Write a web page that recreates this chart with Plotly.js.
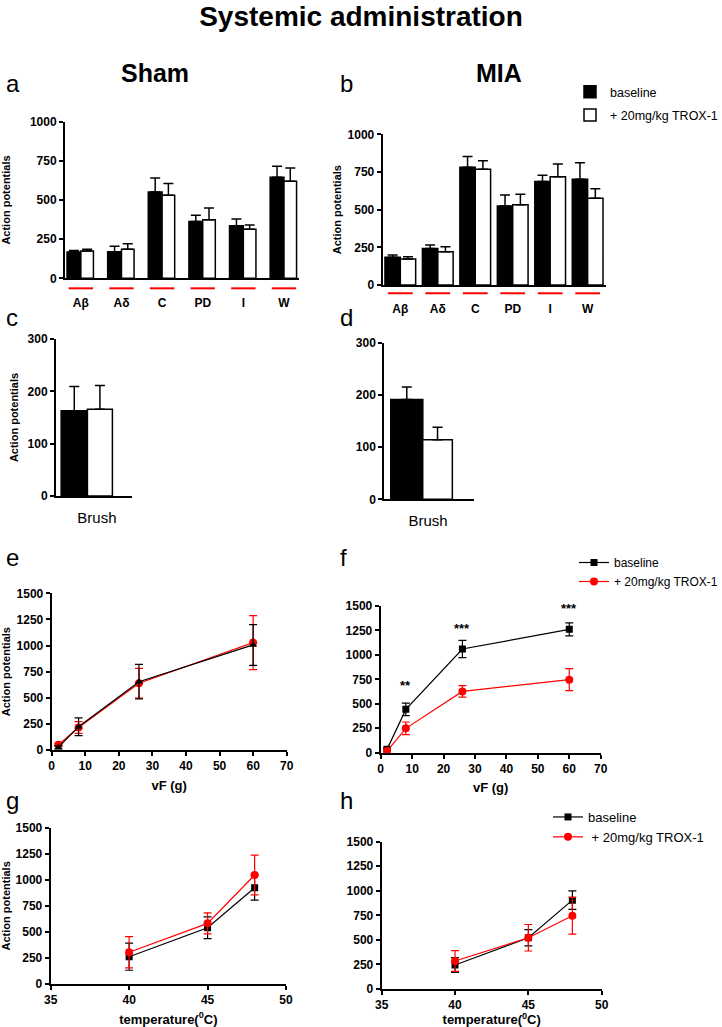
<!DOCTYPE html>
<html><head><meta charset="utf-8">
<script src="https://cdn.plot.ly/plotly-3.0.1.min.js"></script>
<style>html,body{margin:0;padding:0;background:#fff}</style>
</head><body><div id="chart" style="width:722px;height:1027px"></div>
<script>
// ---------- data ----------
const fiberTypes = ["Aβ","Aδ","C","PD","I","W"];
const shamBaseline     = [168,170,551,363,335,645];
const shamBaselineErr  = [10,35,90,39,43,71];
const shamTrox         = [174,186,530,374,314,620];
const shamTroxErr      = [11,34,75,75,26,85];
const miaBaseline      = [184,243,781,524,686,701];
const miaBaselineErr   = [15,22,71,73,42,111];
const miaTrox          = [173,221,768,533,719,575];
const miaTroxErr       = [15,33,57,69,84,64];

const brushCat = ["Brush"];
const brushShamBaseline = [163], brushShamBaselineErr = [46];
const brushShamTrox     = [166], brushShamTroxErr     = [45];
const brushMiaBaseline  = [191], brushMiaBaselineErr  = [24];
const brushMiaTrox      = [114], brushMiaTroxErr      = [24];

const vonFrey = [2,8,26,60];
const vfShamBaseline = [25,223,654,1006], vfShamBaselineErr = [15,85,165,195];
const vfShamTrox     = [50,215,639,1028], vfShamTroxErr     = [15,56,142,258];
const vfMiaBaseline  = [34,443,1060,1261], vfMiaBaselineErr = [15,63,88,67];
const vfMiaTrox      = [17,249,627,747],  vfMiaTroxErr      = [10,65,58,112];
const sigX = [8,26,60], sigLabels = ["**","***","***"], sigLabelY = [690,1265,1476];

const temperature = [40,45,48];
const thShamBaseline = [262,540,924], thShamBaselineErr = [130,105,120];
const thShamTrox     = [305,582,1046], thShamTroxErr    = [150,100,190];
const thMiaBaseline  = [244,522,905], thMiaBaselineErr  = [75,83,95];
const thMiaTrox      = [285,522,746], thMiaTroxErr      = [105,135,188];

const barTicks = [0,250,500,750,1000];
const brushTicks = [0,100,200,300];
const lineYTicks = [0,250,500,750,1000,1250,1500];
const vfTicks = [0,10,20,30,40,50,60,70];
const tempTicks = [35,40,45,50];

// ---------- helpers ----------
const W = 722, H = 1027;
const FONT = "Liberation Sans, Arial, sans-serif";
const RED = "#ff0000";
function dx(a,b){ return [a/W, b/W]; }
function dy(top,bottom){ return [1-bottom/H, 1-top/H]; }
const zeros = n => new Array(n).fill(0);

function yAx(domain, anchor, range, tickvals, title, standoff){
  const ax = {domain, anchor, range, tickvals, showline:true, linewidth:2, linecolor:"#000",
    ticks:"outside", ticklen:4, tickwidth:2, tickcolor:"#000", showgrid:false, zeroline:false,
    tickfont:{family:FONT, size:12, weight:"bold", color:"#000"}, fixedrange:true, automargin:false};
  if (title) ax.title = {text:title, font:{family:FONT, size:11, weight:"bold", color:"#000"}, standoff};
  return ax;
}
function xNum(domain, anchor, range, tickvals, title){
  return {domain, anchor, range, tickvals, showline:true, linewidth:2, linecolor:"#000",
    ticks:"outside", ticklen:4, tickwidth:2, tickcolor:"#000", showgrid:false, zeroline:false,
    tickfont:{family:FONT, size:12, weight:"bold", color:"#000"}, fixedrange:true, automargin:false,
    title:{text:title, font:{family:FONT, size:13, weight:"bold", color:"#000"}, standoff:8}};
}
function xCat(domain, anchor, range, fontSize, weight, standoff){
  return {domain, anchor, type:"category", range, showline:true, linewidth:2, linecolor:"#000",
    ticks:"", showgrid:false, zeroline:false, fixedrange:true, automargin:false,
    ticklabelstandoff: standoff,
    tickfont:{family:FONT, size:fontSize, weight, color:"#000"}};
}
function bar(x, y, err, fill, xa, ya, offset, width, name, legend, show){
  return {type:"bar", x, y, xaxis:xa, yaxis:ya, offset, width, name,
    legend, showlegend:show, legendgroup:name,
    marker:{color:fill, line:{color:"#000", width:1.5}},
    error_y:{type:"data", symmetric:false, array:err, arrayminus:zeros(err.length),
      color:"#000", thickness:1.5, width:5}};
}
function line(x, y, err, color, symbol, size, xa, ya, name, legend, show){
  return {type:"scatter", mode:"lines+markers", x, y, xaxis:xa, yaxis:ya, name, legend, showlegend:show,
    line:{color, width:1.2}, marker:{color, symbol, size},
    error_y:{type:"data", array:err, color, thickness:1.2, width:4}};
}

const traces = [
  // a: Sham bars
  bar(fiberTypes, shamBaseline, shamBaselineErr, "#000", "x", "y", -0.34, 0.34, "baseline", "legend", false),
  bar(fiberTypes, shamTrox, shamTroxErr, "#fff", "x", "y", 0, 0.31, "+ 20mg/kg TROX-1", "legend", false),
  // b: MIA bars
  bar(fiberTypes, miaBaseline, miaBaselineErr, "#000", "x2", "y2", -0.41, 0.41, "baseline", "legend", true),
  bar(fiberTypes, miaTrox, miaTroxErr, "#fff", "x2", "y2", 0, 0.41, "+ 20mg/kg TROX-1", "legend", true),
  // c, d: brush
  bar(brushCat, brushShamBaseline, brushShamBaselineErr, "#000", "x3", "y3", -0.472, 0.347, "baseline", "legend", false),
  bar(brushCat, brushShamTrox, brushShamTroxErr, "#fff", "x3", "y3", -0.125, 0.33, "+ 20mg/kg TROX-1", "legend", false),
  bar(brushCat, brushMiaBaseline, brushMiaBaselineErr, "#000", "x4", "y4", -0.414, 0.356, "baseline", "legend", false),
  bar(brushCat, brushMiaTrox, brushMiaTroxErr, "#fff", "x4", "y4", -0.059, 0.329, "+ 20mg/kg TROX-1", "legend", false),
  // e, f: von Frey
  line(vonFrey, vfShamTrox, vfShamTroxErr, RED, "circle", 8, "x5", "y5", "+ 20mg/kg TROX-1", "legend2", false),
  line(vonFrey, vfShamBaseline, vfShamBaselineErr, "#000", "triangle-up", 7, "x5", "y5", "baseline", "legend2", false),
  line(vonFrey, vfMiaBaseline, vfMiaBaselineErr, "#000", "square", 7, "x6", "y6", "baseline", "legend2", true),
  line(vonFrey, vfMiaTrox, vfMiaTroxErr, RED, "circle", 8, "x6", "y6", "+ 20mg/kg TROX-1", "legend2", true),
  // g, h: heat
  line(temperature, thShamBaseline, thShamBaselineErr, "#000", "square", 7, "x7", "y7", "baseline", "legend3", false),
  line(temperature, thShamTrox, thShamTroxErr, RED, "circle", 8, "x7", "y7", "+ 20mg/kg TROX-1", "legend3", false),
  line(temperature, thMiaBaseline, thMiaBaselineErr, "#000", "square", 7, "x8", "y8", "baseline", "legend3", true),
  line(temperature, thMiaTrox, thMiaTroxErr, RED, "circle", 8, "x8", "y8", " + 20mg/kg TROX-1", "legend3", true)
];

// red underline marks below each fibre category
const shapes = [];
fiberTypes.forEach((c,i)=>{
  shapes.push({type:"line", xref:"x", yref:"y domain", x0:i-0.3, x1:i+0.3, y0:-0.064, y1:-0.064, line:{color:RED, width:2}});
  shapes.push({type:"line", xref:"x2", yref:"y2 domain", x0:i-0.33, x1:i+0.33, y0:-0.055, y1:-0.055, line:{color:RED, width:2}});
});

const annotations = [];
function txt(text, x, y, size, weight, anchor){
  annotations.push({text, x:x/W, y:1-y/H, xref:"paper", yref:"paper", showarrow:false,
    xanchor:anchor||"center", yanchor:"middle", font:{family:FONT, size, weight:weight||"normal", color:"#000"}});
}
txt("Sham", 155, 73, 25, "bold");
txt("MIA", 499, 73, 25, "bold");
[["a",4,83],["b",338,83],["c",4,317],["d",338,317],["e",4,557],["f",338,557],["g",4,800],["h",338,800]]
  .forEach(([t,x,y])=>txt(t,x,y,24,"normal","left"));
sigX.forEach((x,i)=>annotations.push({text:sigLabels[i], x, y:sigLabelY[i], xref:"x6", yref:"y6",
  showarrow:false, font:{family:FONT, size:13, weight:"bold", color:"#000"}}));

const layout = {
  width:W, height:H, margin:{l:0,r:0,t:0,b:0,autoexpand:false}, paper_bgcolor:"#fff", plot_bgcolor:"rgba(0,0,0,0)",
  barmode:"overlay",
  title:{text:"Systemic administration", x:0.5, xanchor:"center", xref:"paper", y:1-16/H, yref:"container", yanchor:"middle",
    font:{family:FONT, size:28, weight:"bold", color:"#000"}},
  xaxis: xCat(dx(65,299), "y", [-0.39,5.37], 12, "bold", 12),
  yaxis: yAx(dy(121.7,278.3), "x", [0,1000], barTicks, "Action potentials", 20),
  xaxis2: xCat(dx(382.7,606), "y2", [-0.47,5.49], 12, "bold", 12),
  yaxis2: yAx(dy(134.3,285), "x2", [0,1000], barTicks, "Action potentials", 4),
  xaxis3: xCat(dx(56,131.7), "y3", [-0.54,0.46], 15, "normal", 7),
  yaxis3: yAx(dy(339,496), "x3", [0,300], brushTicks, "Action potentials", 7),
  xaxis4: xCat(dx(384.3,474.3), "y4", [-0.486,0.514], 15, "normal", 7),
  yaxis4: yAx(dy(342.7,499.3), "x4", [0,300], brushTicks, null),
  xaxis5: xNum(dx(51.7,286.7), "y5", [0,70], vfTicks, "vF (g)"),
  yaxis5: yAx(dy(593.3,750), "x5", [0,1500], lineYTicks, "Action potentials", 7),
  xaxis6: xNum(dx(380.7,600.7), "y6", [0,70], vfTicks, "vF (g)"),
  yaxis6: yAx(dy(606,752.7), "x6", [0,1500], lineYTicks, null),
  xaxis7: xNum(dx(50.7,286), "y7", [35,50], tempTicks, "temperature(<sup>0</sup>C)"),
  yaxis7: yAx(dy(827.7,984), "x7", [0,1500], lineYTicks, "Action potentials", 6),
  xaxis8: xNum(dx(381.7,601.7), "y8", [35,50], tempTicks, "temperature(<sup>0</sup>C)"),
  yaxis8: yAx(dy(841.7,989), "x8", [0,1500], lineYTicks, null),
  showlegend:true,
  legend:{x:570/W, y:1-77/H, xanchor:"left", yanchor:"top", bgcolor:"rgba(0,0,0,0)",
    font:{family:FONT, size:12.5, color:"#000"}, traceorder:"grouped", tracegroupgap:4},
  legend2:{x:574/W, y:1-548/H, xanchor:"left", yanchor:"top", bgcolor:"rgba(0,0,0,0)",
    font:{family:FONT, size:12, color:"#000"}, traceorder:"normal"},
  legend3:{x:548/W, y:1-802/H, xanchor:"left", yanchor:"top", bgcolor:"rgba(0,0,0,0)",
    font:{family:FONT, size:13, color:"#000"}, traceorder:"normal"},
  shapes, annotations
};
Plotly.newPlot("chart", traces, layout, {displayModeBar:false, staticPlot:true});
</script></body></html>
